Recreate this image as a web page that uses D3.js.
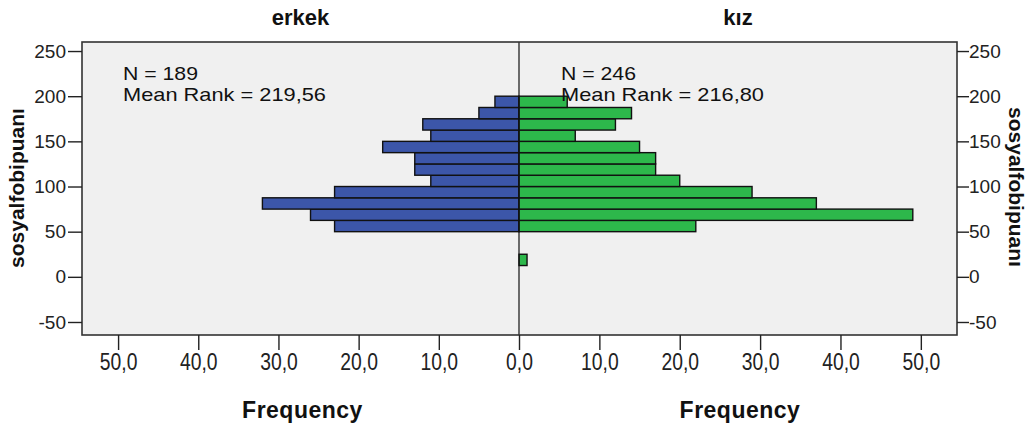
<!DOCTYPE html>
<html>
<head>
<meta charset="utf-8">
<script src="https://cdn.jsdelivr.net/npm/d3@7/dist/d3.min.js"></script>
<style>
  html, body { margin: 0; padding: 0; background: #ffffff; }
  svg { display: block; font-family: "Liberation Sans", Arial, sans-serif; }
</style>
</head>
<body>
<svg id="chart" width="1030" height="434"></svg>
<script>
// ---- data ----
const groups = ["erkek", "kız"];
const binLower = [12.5, 50, 62.5, 75, 87.5, 100, 112.5, 125, 137.5, 150, 162.5, 175, 187.5];
const binWidth = 12.5;
const erkekFreq = [0, 23, 26, 32, 23, 11, 13, 13, 17, 11, 12, 5, 3];
const kizFreq   = [1, 22, 49, 37, 29, 20, 17, 17, 15, 7, 12, 14, 6];
const statsN = [189, 246];
const statsMeanRank = ["219,56", "216,80"];
const yTicks = [-50, 0, 50, 100, 150, 200, 250];
const xTicks = [0, 10, 20, 30, 40, 50];
const yLabel = "sosyalfobipuanı";
const xLabel = "Frequency";

// ---- layout ----
const svg = d3.select("#chart");
const L = 82, R = 957, T = 42, B = 335, C = 519;
const xMax = 54.5;
const xLeft = d3.scaleLinear().domain([xMax, 0]).range([L, C]);
const xRight = d3.scaleLinear().domain([0, xMax]).range([C, R]);
const y = d3.scaleLinear().domain([-64.4, 260]).range([B, T]);

const blue = "#3c56a9", green = "#2db84b", dark = "#222";

// background panel
svg.append("rect").attr("x", L).attr("y", T).attr("width", R - L).attr("height", B - T)
  .attr("fill", "#f0f0f0");

const fmt = v => d3.format(".1f")(v).replace(".", ",");
const yfmt = v => String(v);

// bars
function drawBars(freq, xs, color, left) {
  svg.append("g").selectAll("rect")
    .data(binLower.map((b, i) => ({ b, f: freq[i] })).filter(d => d.f > 0))
    .join("rect")
    .attr("x", d => left ? xs(d.f) : xs(0))
    .attr("width", d => Math.abs(xs(d.f) - xs(0)))
    .attr("y", d => y(d.b + binWidth))
    .attr("height", d => y(d.b) - y(d.b + binWidth))
    .attr("fill", color)
    .attr("stroke", "#111")
    .attr("stroke-width", 1.4);
}
drawBars(erkekFreq, xLeft, blue, true);
drawBars(kizFreq, xRight, green, false);

// center line
svg.append("line").attr("x1", C).attr("x2", C).attr("y1", T).attr("y2", B)
  .attr("stroke", "#111").attr("stroke-width", 1.2);

// frame
svg.append("rect").attr("x", L).attr("y", T).attr("width", R - L).attr("height", B - T)
  .attr("fill", "none").attr("stroke", "#333").attr("stroke-width", 1.6);

// axes
function styleAxis(g) {
  g.select(".domain").remove();
  g.selectAll(".tick line").attr("stroke", dark).attr("stroke-width", 1.4);
  g.selectAll(".tick text").attr("fill", "#222")
    .style("font-family", "'Liberation Sans', Arial, sans-serif");
}
const yl = svg.append("g").attr("transform", `translate(${L},0)`)
  .call(d3.axisLeft(y).tickValues(yTicks).tickSize(14).tickPadding(2).tickFormat(yfmt));
styleAxis(yl);
yl.selectAll(".tick text").style("font-size", "19px");

const yr = svg.append("g").attr("transform", `translate(${R},0)`)
  .call(d3.axisRight(y).tickValues(yTicks).tickSize(12).tickPadding(0).tickFormat(yfmt));
styleAxis(yr);
yr.selectAll(".tick text").style("font-size", "19px");

const xl = svg.append("g").attr("transform", `translate(0,${B})`)
  .call(d3.axisBottom(xLeft).tickValues(xTicks).tickSize(15).tickPadding(4).tickFormat(fmt));
styleAxis(xl);
const xr = svg.append("g").attr("transform", `translate(0,${B})`)
  .call(d3.axisBottom(xRight).tickValues(xTicks.filter(v => v > 0)).tickSize(15).tickPadding(4).tickFormat(fmt));
styleAxis(xr);
[xl, xr].forEach(g => g.selectAll(".tick text")
  .style("font-size", "21px")
  .attr("transform", "scale(0.92,1.12)")
  .attr("x", 0)
  .attr("y", 16.5)
  .attr("dy", "0.71em"));

// titles
const centers = [(L + C) / 2, (C + R) / 2];
groups.forEach((g, i) => {
  svg.append("text").attr("x", centers[i]).attr("y", 25)
    .attr("text-anchor", "middle").style("font-size", "22px").style("font-weight", "bold")
    .attr("fill", "#111").text(g);
  svg.append("text").attr("x", centers[i] + 2).attr("y", 418)
    .attr("text-anchor", "middle").style("font-size", "23px").style("font-weight", "bold")
    .style("letter-spacing", "0.5px")
    .attr("fill", "#111").text(xLabel);
});

// stats annotations
const annX = [123, 561];
groups.forEach((g, i) => {
  svg.append("text").attr("x", annX[i]).attr("y", 80)
    .style("font-size", "19px").attr("fill", "#111")
    .attr("textLength", 75).attr("lengthAdjust", "spacingAndGlyphs")
    .text(`N = ${statsN[i]}`);
  svg.append("text").attr("x", annX[i]).attr("y", 101)
    .style("font-size", "19px").attr("fill", "#111")
    .attr("textLength", 203).attr("lengthAdjust", "spacingAndGlyphs")
    .text(`Mean Rank = ${statsMeanRank[i]}`);
});

// y-axis titles
svg.append("text").attr("transform", "translate(24,188) rotate(-90)")
  .attr("text-anchor", "middle").style("font-size", "21px").style("font-weight", "bold")
  .attr("fill", "#111").text(yLabel);
svg.append("text").attr("transform", "translate(1009,187) rotate(90)")
  .attr("text-anchor", "middle").style("font-size", "21px").style("font-weight", "bold")
  .attr("fill", "#111").text(yLabel);
</script>
</body>
</html>
